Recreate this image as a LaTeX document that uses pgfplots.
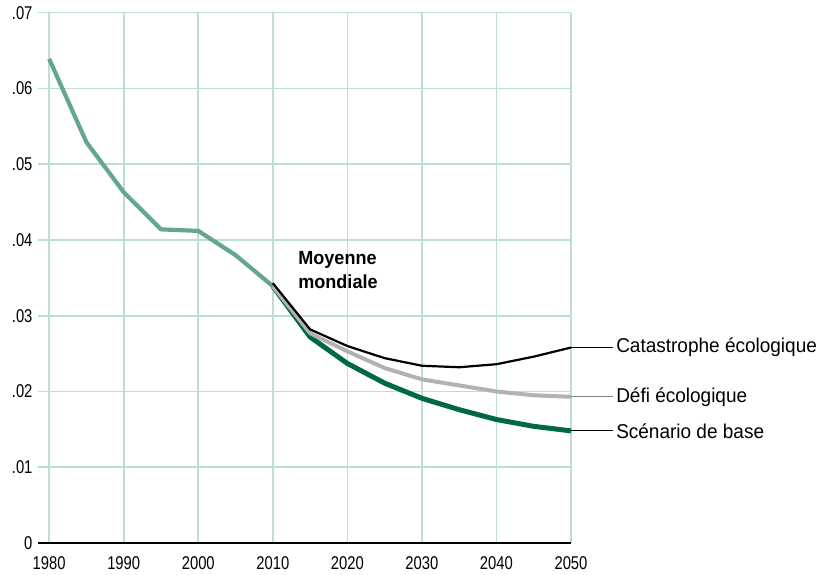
\documentclass[border=0pt]{standalone}
\usepackage{fontspec}
\setmainfont{Liberation Sans}[FakeStretch=0.95]
\newfontfamily\tickfont{Liberation Sans}[FakeStretch=0.8]
\usepackage{pgfplots}
\pgfplotsset{compat=1.18}
\definecolor{gridc}{RGB}{188,222,212}
\definecolor{histc}{RGB}{100,166,147}
\definecolor{basec}{RGB}{0,104,71}
\definecolor{grayc}{RGB}{178,178,182}
\begin{document}
\begin{tikzpicture}
\useasboundingbox (0,0) rectangle (832pt,574pt);
\begin{axis}[
  at={(38pt,31pt)}, anchor=south west,
  scale only axis, width=533pt, height=530.3pt,
  xmin=1978.5, xmax=2050, ymin=0, ymax=0.07,
  xtick={1980,1990,2000,2010,2020,2030,2040,2050},
  xticklabels={1980,1990,2000,2010,2020,2030,2040,2050},
  ytick={0,0.01,0.02,0.03,0.04,0.05,0.06,0.07},
  yticklabels={0,.01,.02,.03,.04,.05,.06,.07},
  scaled y ticks=false,
  /pgf/number format/assume math mode=true,
  yticklabel style={font=\tickfont\fontsize{18.5}{20}\selectfont, anchor=east, xshift=-2pt},
  xticklabel style={font=\tickfont\fontsize{18.5}{20}\selectfont, anchor=north, yshift=-10pt},
  major tick length=0pt,
  grid=major,
  major grid style={draw=gridc, line width=1.6pt},
  axis x line*=bottom, axis y line*=left,
  x axis line style={draw=black, line width=1.6pt, -},
  y axis line style={draw=none},
  clip=false,
]
\addplot[histc, line width=4.2pt, line join=round] coordinates {
(1980,0.0639) (1985,0.0529) (1990,0.0463) (1995,0.0414) (2000,0.0412) (2005,0.0380) (2010,0.0339)};
\addplot[basec, line width=5pt, line join=round] coordinates {
(2010,0.0339) (2015,0.0272) (2020,0.0237) (2025,0.0211) (2030,0.0191) (2035,0.0176) (2040,0.0163) (2045,0.0154) (2050,0.0148)};
\addplot[grayc, line width=4pt, line join=round] coordinates {
(2010,0.0339) (2015,0.0277) (2020,0.0253) (2025,0.0231) (2030,0.0216) (2035,0.0208) (2040,0.0200) (2045,0.0195) (2050,0.0193)};
\addplot[black, line width=2.2pt, line join=round] coordinates {
(2010,0.0343) (2015,0.0282) (2020,0.0260) (2025,0.0244) (2030,0.0234) (2035,0.0232) (2040,0.0236) (2045,0.0246) (2050,0.0258)};
\draw[black, line width=1pt] (axis cs:2050,0.0258) -- (axis cs:2055.6,0.0258)
  node[anchor=west, inner sep=0pt, xshift=3pt, text=black, font=\fontsize{20}{24}\selectfont] {Catastrophe écologique};
\draw[gray, line width=1pt] (axis cs:2050,0.0193) -- (axis cs:2055.6,0.0193)
  node[anchor=west, inner sep=0pt, xshift=3pt, text=black, font=\fontsize{20}{24}\selectfont] {Défi écologique};
\draw[black, line width=1pt] (axis cs:2050,0.0148) -- (axis cs:2055.6,0.0148)
  node[anchor=west, inner sep=0pt, xshift=3pt, text=black, font=\fontsize{20}{24}\selectfont] {Scénario de base};
\node[anchor=north west, align=left, inner sep=0pt, font=\bfseries\fontsize{19}{24}\selectfont]
  at (axis cs:2013.4,0.0385) {Moyenne\\mondiale};
\end{axis}
\end{tikzpicture}
\end{document}
